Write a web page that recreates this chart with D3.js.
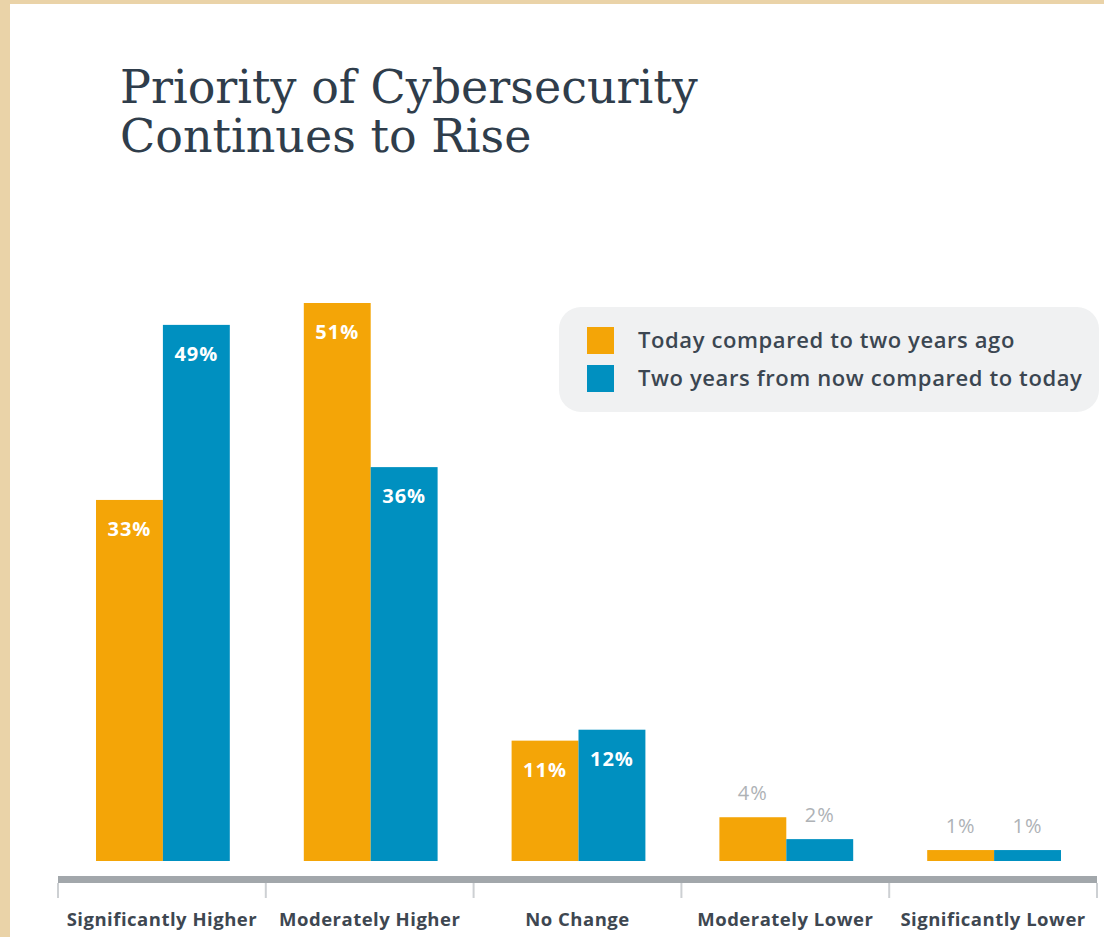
<!DOCTYPE html>
<meta charset="utf-8">
<style>
body { margin: 0; background: #ecd9b3; }
svg { display: block; }
.title { font-family: "DejaVu Serif", serif; font-size: 46px; fill: #2f3d4b; }
.legend text { font-family: "Open Sans", sans-serif; font-size: 22px; font-weight: 600; fill: #3b4651; letter-spacing: 0.6px; }
.cat { font-family: "Open Sans", sans-serif; font-size: 18.5px; font-weight: 700; fill: #3e4751; letter-spacing: 0.5px; }
.val { font-family: "Open Sans", sans-serif; font-size: 20px; letter-spacing: 1px; }
</style>
<svg width="1104" height="937"></svg>
<script src="https://d3js.org/d3.v7.min.js"></script>
<script>
var categories = ["Significantly Higher", "Moderately Higher", "No Change", "Moderately Lower", "Significantly Lower"];
var seriesNames = ["Today compared to two years ago", "Two years from now compared to today"];
var today = [33, 51, 11, 4, 1];
var future = [49, 36, 12, 2, 1];
var colors = ["#f4a507", "#0090c0"];

var svg = d3.select("svg");

// paper edge + white panel
svg.append("rect").attr("width", 1104).attr("height", 937).attr("fill", "#ead3a8");
svg.append("rect").attr("x", 10).attr("y", 4).attr("width", 1094).attr("height", 933).attr("fill", "#ffffff");

var title = svg.append("text").attr("class", "title");
title.append("tspan").attr("x", 120).attr("y", 103).text("Priority of Cybersecurity");
title.append("tspan").attr("x", 120).attr("y", 152).text("Continues to Rise");

var x = d3.scaleBand().domain(categories).range([58, 1097]);
var xs = d3.scaleBand().domain([0, 1]).range([38, x.bandwidth() - 36]);
var y = d3.scaleLinear().domain([0, 51]).range([861, 303]);

var rows = categories.map(function(c, i) { return {cat: c, vals: [today[i], future[i]]}; });

var groups = svg.append("g").selectAll("g")
    .data(rows)
    .enter().append("g")
    .attr("transform", function(d) { return "translate(" + x(d.cat) + ",0)"; });

groups.selectAll("rect")
    .data(function(d) { return d.vals.map(function(v, k) { return {v: v, k: k}; }); })
    .enter().append("rect")
    .attr("x", function(d) { return xs(d.k); })
    .attr("width", xs.bandwidth())
    .attr("y", function(d) { return y(d.v); })
    .attr("height", function(d) { return y(0) - y(d.v); })
    .attr("fill", function(d) { return colors[d.k]; });

groups.selectAll("text.val")
    .data(function(d) { return d.vals.map(function(v, k) { return {v: v, k: k}; }); })
    .enter().append("text")
    .attr("class", "val")
    .attr("text-anchor", "middle")
    .attr("x", function(d) { return xs(d.k) + xs.bandwidth() / 2; })
    .attr("y", function(d) { return d.v >= 10 ? y(d.v) + 36 : y(d.v) - 17; })
    .attr("fill", function(d) { return d.v >= 10 ? "#ffffff" : "#aeb2b6"; })
    .style("font-weight", function(d) { return d.v >= 10 ? 700 : 500; })
    .text(function(d) { return d.v + "%"; });

// axis
var axisG = svg.append("g");
axisG.append("rect").attr("x", 58).attr("y", 876).attr("width", 1097 - 58).attr("height", 7).attr("fill", "#a2a7ab");
var bounds = categories.map(function(c) { return x(c); }).concat([x.range()[1]]);
axisG.selectAll("line")
    .data(bounds)
    .enter().append("line")
    .attr("x1", function(d) { return d; })
    .attr("x2", function(d) { return d; })
    .attr("y1", 883).attr("y2", 898)
    .attr("stroke", "#cdd0d3").attr("stroke-width", 2);

axisG.selectAll("text")
    .data(categories)
    .enter().append("text")
    .attr("class", "cat")
    .attr("text-anchor", "middle")
    .attr("x", function(d) { return x(d) + x.bandwidth() / 2; })
    .attr("y", 926)
    .text(function(d) { return d; });

// legend
var legend = svg.append("g").attr("class", "legend");
legend.append("rect").attr("x", 559).attr("y", 307).attr("width", 540).attr("height", 105)
    .attr("rx", 22).attr("fill", "#f0f1f2");
var li = legend.selectAll("g.item")
    .data(seriesNames)
    .enter().append("g")
    .attr("transform", function(d, i) { return "translate(587," + (327 + i * 38) + ")"; });
li.append("rect").attr("width", 27).attr("height", 27).attr("fill", function(d, i) { return colors[i]; });
li.append("text").attr("x", 51).attr("y", 21).text(function(d) { return d; });
</script>
